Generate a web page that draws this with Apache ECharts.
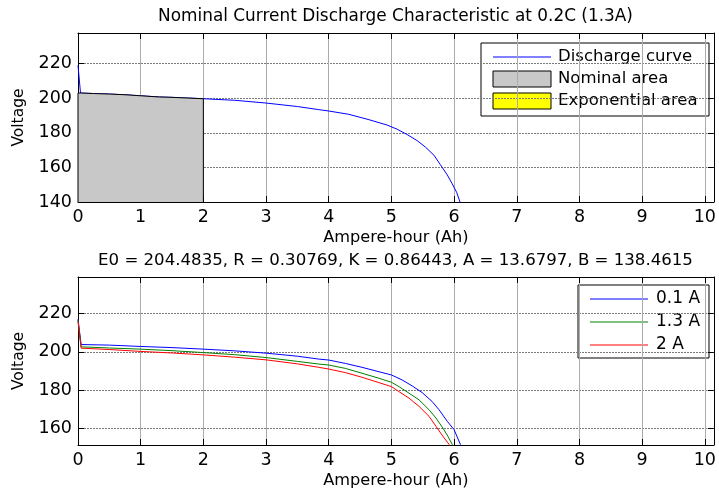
<!DOCTYPE html>
<html>
<head>
<meta charset="utf-8">
<script src="https://cdn.jsdelivr.net/npm/echarts@6/dist/echarts.min.js"></script>
<style>
html,body{margin:0;padding:0;background:#fff;}
#chart{width:719px;height:491px;}
</style>
</head>
<body>
<div id="chart"></div>
<script>
// Nominal discharge at 0.2C (1.3 A)
const dischargeAh = [0, 0.04, 0.25, 0.5, 0.75, 1.0, 1.3, 1.5, 1.75, 2.0, 2.5, 3.0, 3.5, 3.84, 4.0, 4.32, 4.64, 4.93, 5.09, 5.25, 5.41, 5.54, 5.68, 5.78, 5.89, 5.97, 6.04, 6.10, 6.14];
const dischargeV  = [219, 203, 202.7, 202.4, 202, 201.4, 200.7, 200.5, 200.1, 199.7, 198.8, 197.2, 195.2, 193.4, 192.6, 190.7, 187.6, 184.5, 182.1, 179.0, 175.5, 171.8, 167.0, 161.6, 155.7, 150.5, 145.6, 139.4, 136];
const nominalEndAh = 2;

// Discharge curves at several currents
const ah01 = [0, 0.05, 0.5, 1, 1.5, 2, 2.5, 3, 3.5, 3.84, 4.0, 4.27, 4.53, 4.8, 5.0, 5.17, 5.33, 5.49, 5.65, 5.76, 5.89, 6.0, 6.1, 6.14];
const v01  = [217, 203.8, 203.5, 202.8, 202.2, 201.4, 200.5, 199.3, 197.7, 196.2, 195.7, 193.9, 191.9, 189.6, 187.9, 185.3, 182.2, 178.7, 174.0, 169.7, 163.7, 159.3, 151.6, 148];
const ah13 = [0, 0.05, 0.5, 1, 1.5, 2, 2.5, 3, 3.5, 3.84, 4.0, 4.27, 4.53, 4.8, 5.0, 5.12, 5.28, 5.44, 5.6, 5.71, 5.82, 5.9, 5.97, 6.0];
const v13  = [216.5, 202.6, 202, 201.4, 200.6, 199.6, 198.5, 197, 195, 193.6, 193.1, 191.3, 188.8, 186.2, 184.1, 181.8, 178.4, 174.9, 169.7, 165.4, 160.2, 155.9, 151.6, 149];
const ah20 = [0, 0.05, 0.5, 1, 1.5, 2, 2.5, 3, 3.5, 3.84, 4.0, 4.27, 4.53, 4.8, 5.0, 5.12, 5.28, 5.44, 5.6, 5.71, 5.82, 5.92, 5.95];
const v20  = [216, 201.9, 201.2, 200.2, 199.4, 198.4, 197.2, 195.8, 193.7, 191.9, 191.0, 189.1, 186.7, 183.9, 181.8, 179.2, 175.8, 171.5, 166.3, 161.1, 155.9, 151.6, 149];

const xTicks = [0, 1, 2, 3, 4, 5, 6, 7, 8, 9, 10];
const yTicksTop = [140, 160, 180, 200, 220];
const yTicksBottom = [160, 180, 200, 220];

const topTitle = 'Nominal Current Discharge Characteristic at 0.2C (1.3A)';
const bottomTitle = 'E0 = 204.4835, R = 0.30769, K = 0.86443, A = 13.6797, B = 138.4615';
const xName = 'Ampere-hour (Ah)';
const yName = 'Voltage';
const topLegend = ['Discharge curve', 'Nominal area', 'Exponential area'];
const bottomLegend = ['0.1 A', '1.3 A', '2 A'];

const FONT = 'DejaVu Sans';
const TICK_FS = 17.5;

const pairs = (xs, ys) => xs.map((x, i) => [x, ys[i]]);

// nominal area polygon: the curve from its first plateau point up to nominalEndAh, closed at the axis floor
const nominalPts = [[0, 140], [0, dischargeV[1]]];
dischargeAh.forEach((a, i) => { if (a > 0 && a <= nominalEndAh) nominalPts.push([a, dischargeV[i]]); });
nominalPts.push([nominalEndAh, 140]);

const grids = [
  {left: 78, top: 33, width: 639, height: 169},
  {left: 78, top: 277, width: 639, height: 168}
];
const XMAX = 10.143;
const yr = [[140, 237.7], [151.3, 239.1]];

const vGrid = {show: true, lineStyle: {color: '#ababab', type: 'solid', width: 1}};
const hGrid = {show: true, lineStyle: {color: '#7a7a7a', type: [2, 1], width: 1}};
function xAxisFor(gi, pos) {
  const main = pos === 'bottom';
  return {
    type: 'value', gridIndex: gi, position: pos, min: 0, max: XMAX, interval: 1,
    axisLine: {show: true, onZero: false, lineStyle: {color: '#000', width: 1}},
    axisTick: {show: true, inside: true, length: 6, lineStyle: {color: '#000'}},
    axisLabel: {show: main, fontFamily: FONT, fontSize: TICK_FS, color: '#000', margin: 6,
      showMaxLabel: false,
      formatter: v => xTicks.includes(v) ? String(v) : ''},
    splitLine: main ? vGrid : {show: false},
    name: main ? xName : '', nameLocation: 'middle', nameGap: 28,
    nameTextStyle: {fontFamily: FONT, fontSize: 16.2, color: '#000'}
  };
}
function yAxisFor(gi, pos) {
  const main = pos === 'left';
  const ticks = gi === 0 ? yTicksTop : yTicksBottom;
  return {
    type: 'value', gridIndex: gi, position: pos, min: yr[gi][0], max: yr[gi][1],
    axisLine: {show: true, onZero: false, lineStyle: {color: '#000', width: 1}},
    axisTick: {show: true, inside: true, length: 6, lineStyle: {color: '#000'}, customValues: ticks},
    axisLabel: {show: main, fontFamily: FONT, fontSize: TICK_FS, color: '#000', margin: 6,
      customValues: ticks, formatter: v => String(v)},
    splitLine: main ? hGrid : {show: false},
    name: main ? yName : '', nameLocation: 'middle', nameGap: 51, nameRotate: 90,
    nameTextStyle: {fontFamily: FONT, fontSize: 15.5, color: '#000'}
  };
}

function lineSeries(name, data, color, xi, yi, z) {
  return {name, type: 'line', xAxisIndex: xi, yAxisIndex: yi, data, symbol: 'none',
    lineStyle: {color, width: 1}, itemStyle: {color}, clip: true, z: z || 2, animation: false};
}

// legend drawn as a bordered box with samples
function legendBox(x, y, w, h, fs, rows) {
  const children = [{type: 'rect', shape: {x, y, width: w, height: h},
    style: {fill: '#fff', stroke: '#000', lineWidth: 1}}];
  rows.forEach(r => {
    if (r.kind === 'line') {
      children.push({type: 'line', shape: {x1: r.sx, y1: r.cy, x2: r.sx + r.sw, y2: r.cy},
        style: {stroke: r.color, lineWidth: 1}});
    } else {
      children.push({type: 'rect', shape: {x: r.sx, y: r.cy - 8, width: r.sw, height: 16},
        style: {fill: r.color, stroke: '#000', lineWidth: 1}});
    }
    children.push({type: 'text', x: r.tx, y: r.cy,
      style: {text: r.text, font: fs + 'px "' + FONT + '"', fill: '#000', textVerticalAlign: 'middle', textAlign: 'left'}});
  });
  return {type: 'group', children, z: 100};
}

const chart = echarts.init(document.getElementById('chart'), null, {renderer: 'canvas'});
chart.setOption({
  animation: false,
  backgroundColor: '#fff',
  title: [
    {text: topTitle, left: 390.5, top: 3, textAlign: 'center',
      textStyle: {fontFamily: FONT, fontSize: 16.9, fontWeight: 'normal', color: '#000'}},
    {text: bottomTitle, left: 390.5, top: 247.5, textAlign: 'center',
      textStyle: {fontFamily: FONT, fontSize: 16.6, fontWeight: 'normal', color: '#000'}}
  ],
  grid: grids,
  xAxis: [xAxisFor(0, 'bottom'), xAxisFor(0, 'top'), xAxisFor(1, 'bottom'), xAxisFor(1, 'top')],
  yAxis: [yAxisFor(0, 'left'), yAxisFor(0, 'right'), yAxisFor(1, 'left'), yAxisFor(1, 'right')],
  series: [
    lineSeries(topLegend[0], pairs(dischargeAh, dischargeV), '#0000ff', 0, 0, 2),
    Object.assign(lineSeries(topLegend[1], nominalPts, '#000000', 0, 0, 3),
      {areaStyle: {color: '#c8c8c8', opacity: 1, origin: 'start'}}),
    lineSeries(bottomLegend[0], pairs(ah01, v01), '#0000ff', 2, 2, 2),
    lineSeries(bottomLegend[1], pairs(ah13, v13), '#008000', 2, 2, 3),
    lineSeries(bottomLegend[2], pairs(ah20, v20), '#ff0000', 2, 2, 4)
  ],
  graphic: [
    legendBox(481, 43, 228, 73, 16.5, [
      {kind: 'line', color: '#0000ff', sx: 493, sw: 58, cy: 57, tx: 558, text: topLegend[0]},
      {kind: 'box', color: '#c8c8c8', sx: 493, sw: 58, cy: 79, tx: 558, text: topLegend[1]},
      {kind: 'box', color: '#ffff00', sx: 493, sw: 58, cy: 101, tx: 558, text: topLegend[2]}
    ]),
    legendBox(578, 285, 131, 73, 17, [
      {kind: 'line', color: '#0000ff', sx: 590, sw: 58, cy: 299, tx: 656, text: bottomLegend[0]},
      {kind: 'line', color: '#008000', sx: 590, sw: 58, cy: 322, tx: 656, text: bottomLegend[1]},
      {kind: 'line', color: '#ff0000', sx: 590, sw: 58, cy: 345, tx: 656, text: bottomLegend[2]}
    ])
  ]
});
</script>
</body>
</html>
